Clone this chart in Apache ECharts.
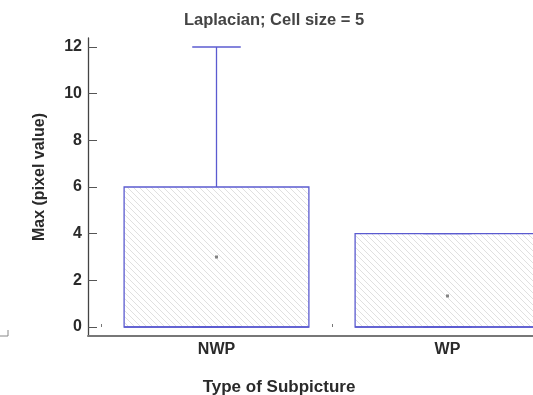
<!DOCTYPE html>
<html>
<head>
<meta charset="utf-8">
<script src="https://cdn.jsdelivr.net/npm/echarts@6/dist/echarts.min.js"></script>
<style>
  html, body { margin: 0; padding: 0; background: #fff; }
  #chart { width: 533px; height: 395px; }
</style>
</head>
<body>
<div id="chart"></div>
<script>
// Box summary per subpicture type
const categories = ['NWP', 'WP'];
const lowWhisker = [0, 0];
const q1Values = [0, 0];
const medianValues = [0, 0];
const q3Values = [6, 4];
const highWhisker = [12, 4];
const meanValues = [3, 1.33];
const yTicks = [0, 2, 4, 6, 8, 10, 12];

const FONT = '"Liberation Sans", Arial, sans-serif';
const BOX_COLOR = '#5b5bd0';

// diagonal hatch used to fill the boxes
function hatchPattern() {
  const n = 6;
  const c = document.createElement('canvas');
  c.width = n; c.height = n;
  const g = c.getContext('2d');
  g.strokeStyle = '#e0e0e0';
  g.lineWidth = 1;
  g.beginPath();
  g.moveTo(-1, -1); g.lineTo(n + 1, n + 1);
  g.moveTo(-1, n - 1); g.lineTo(1, n + 1);
  g.moveTo(n - 1, -1); g.lineTo(n + 1, 1);
  g.stroke();
  return { image: c, repeat: 'repeat' };
}
const hatch = hatchPattern();

const boxData = categories.map((c, i) =>
  [i, lowWhisker[i], q1Values[i], medianValues[i], q3Values[i], highWhisker[i]]);
const meanData = categories.map((c, i) => [i, meanValues[i]]);

function renderBox(params, api) {
  const x = api.value(0);
  const lo = api.coord([x, api.value(1)]);
  const q1 = api.coord([x, api.value(2)]);
  const med = api.coord([x, api.value(3)]);
  const q3 = api.coord([x, api.value(4)]);
  const hi = api.coord([x, api.value(5)]);
  const band = api.size([1, 0])[0];
  const bw = band * 0.8;
  const cw = band * 0.21;
  const cx = q1[0];
  const line = { stroke: BOX_COLOR, lineWidth: 1.3, fill: null };
  return {
    type: 'group',
    children: [
      { type: 'rect', shape: { x: cx - bw / 2, y: q3[1], width: bw, height: q1[1] - q3[1] },
        style: { fill: hatch, stroke: BOX_COLOR, lineWidth: 1.3 } },
      { type: 'line', shape: { x1: cx - bw / 2, y1: med[1], x2: cx + bw / 2, y2: med[1] }, style: line },
      { type: 'line', shape: { x1: cx, y1: q3[1], x2: cx, y2: hi[1] }, style: line },
      { type: 'line', shape: { x1: cx, y1: q1[1], x2: cx, y2: lo[1] }, style: line },
      { type: 'line', shape: { x1: cx - cw / 2, y1: hi[1], x2: cx + cw / 2, y2: hi[1] }, style: line },
      { type: 'line', shape: { x1: cx - cw / 2, y1: lo[1], x2: cx + cw / 2, y2: lo[1] }, style: line }
    ]
  };
}

const chart = echarts.init(document.getElementById('chart'), null, { renderer: 'canvas' });
chart.setOption({
  backgroundColor: '#fff',
  animation: false,
  title: [{
    text: 'Laplacian; Cell size = 5',
    left: 269, top: 7, textAlign: 'center',
    textStyle: { fontFamily: FONT, fontSize: 16.5, fontWeight: 'bold', color: '#444' }
  }, {
    text: 'Type of Subpicture',
    left: 274, top: 374, textAlign: 'center',
    textStyle: { fontFamily: FONT, fontSize: 17, fontWeight: 'bold', color: '#2a2a2a' }
  }],
  grid: [
    // frame grid: carries the two axis lines only
    { left: 88, top: 38, width: 475, height: 298, outerBoundsMode: 'none', containLabel: false },
    // data grid
    { left: 101, top: 47, width: 462, height: 280, outerBoundsMode: 'none', containLabel: false }
  ],
  xAxis: [{
    gridIndex: 0, type: 'value', min: 0, max: 1,
    axisLine: { show: true, lineStyle: { color: '#777', width: 2 } },
    axisTick: { show: false }, axisLabel: { show: false }, splitLine: { show: false }
  }, {
    gridIndex: 1, type: 'category', data: categories, boundaryGap: true, offset: 9,
    axisLine: { show: false },
    axisTick: { show: true, inside: true, length: 3, lineStyle: { color: '#777' } },
    axisLabel: { margin: 6, fontFamily: FONT, fontSize: 16, fontWeight: 'bold', color: '#2a2a2a' },
    splitLine: { show: false }
  }],
  yAxis: [{
    gridIndex: 0, type: 'value', min: 0, max: 1,
    axisLine: { show: true, lineStyle: { color: '#444', width: 1.3 } },
    axisTick: { show: false }, axisLabel: { show: false }, splitLine: { show: false }
  }, {
    gridIndex: 1, type: 'value', min: yTicks[0], max: yTicks[yTicks.length - 1], interval: 2, offset: 13,
    axisLine: { show: false },
    axisTick: { show: true, inside: true, length: 9, lineStyle: { color: '#555' } },
    axisLabel: { margin: 6, fontFamily: FONT, fontSize: 16, fontWeight: 'bold', color: '#2a2a2a' },
    splitLine: { show: false }
  }],
  graphic: [{
    type: 'text', x: 40, y: 177, rotation: Math.PI / 2,
    style: { text: 'Max (pixel value)', align: 'center', verticalAlign: 'middle',
      font: 'bold 16px ' + FONT, fill: '#2a2a2a' }
  }, {
    type: 'polyline',
    shape: { points: [[0, 336], [8, 336], [8, 330]] },
    style: { stroke: '#888', lineWidth: 1, fill: null }
  }],
  series: [{
    type: 'custom', xAxisIndex: 1, yAxisIndex: 1,
    renderItem: renderBox,
    encode: { x: 0, y: [1, 2, 3, 4, 5] },
    data: boxData, z: 2
  }, {
    type: 'scatter', xAxisIndex: 1, yAxisIndex: 1,
    data: meanData, symbol: 'rect', symbolSize: 3,
    itemStyle: { color: '#666' }, z: 3
  }]
});
</script>
</body>
</html>
